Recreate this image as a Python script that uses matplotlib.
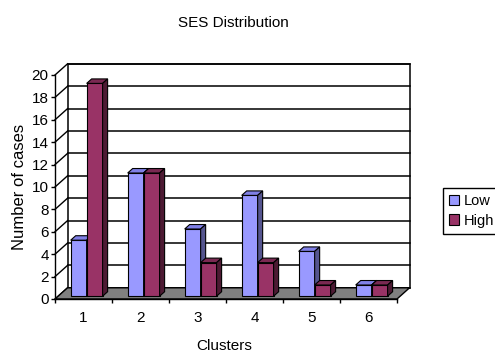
import matplotlib
matplotlib.use("Agg")
import matplotlib.pyplot as plt
from matplotlib.patches import Polygon, Rectangle, Patch
import numpy as np

clusters = [1, 2, 3, 4, 5, 6]
low = [5, 11, 6, 9, 4, 1]
high = [19, 11, 3, 3, 1, 1]
series_names = ["Low", "High"]
yticks = list(range(0, 21, 2))

plt.rcParams['font.family'] = ['Liberation Sans', 'DejaVu Sans']

# front / top / side shades, excel-ish
low_cols = ("#9999ff", "#8080e6", "#55558f")
high_cols = ("#993366", "#7a2952", "#4d1a33")

dx, dy = 0.22, 1.0      # depth of the box in data units
bar_w = 0.28
z0, zd = 0.25, 0.4      # bar start / depth as fraction of box depth

fig = plt.figure(figsize=(4.95, 3.52), dpi=100)
ax = fig.add_axes([55/495, 53/352, 342/495, 224/352])
ax.set_xlim(0.5, 6.5)
ax.set_ylim(0, 20)
ax.patch.set_visible(False)

# back wall, gridlines, side wall lines
ax.add_patch(Rectangle((0.5 + dx, dy), 6, 20, facecolor="white", edgecolor="black",
                       lw=1.1, clip_on=False, zorder=0.5))
for v in yticks:
    ax.plot([0.5 + dx, 6.5 + dx], [v + dy, v + dy], color="black", lw=1.1, clip_on=False, zorder=1)
    ax.plot([0.5, 0.5 + dx], [v, v + dy], color="black", lw=1, clip_on=False, zorder=1)

# floor
ax.add_patch(Polygon([(0.5, 0), (6.5, 0), (6.5 + dx, dy), (0.5 + dx, dy)], closed=True,
                     facecolor="#808080", edgecolor="black", lw=1, clip_on=False, zorder=1.5))


def bars3d(xs, vals, cols, z):
    ox, oy = z0 * dx, z0 * dy
    ddx, ddy = zd * dx, zd * dy
    ax.bar(np.array(xs) + ox, vals, width=bar_w, bottom=oy, align='edge', color=cols[0],
           edgecolor='black', lw=0.8, zorder=z, clip_on=False)
    for x0, v in zip(xs, vals):
        xl, xr, yb, yt = x0 + ox, x0 + ox + bar_w, oy, oy + v
        ax.add_patch(Polygon([(xl, yt), (xr, yt), (xr + ddx, yt + ddy), (xl + ddx, yt + ddy)],
                             closed=True, fc=cols[1], ec='black', lw=0.8, zorder=z, clip_on=False))
        ax.add_patch(Polygon([(xr, yb), (xr + ddx, yb + ddy), (xr + ddx, yt + ddy), (xr, yt)],
                             closed=True, fc=cols[2], ec='black', lw=0.8, zorder=z, clip_on=False))


bars3d([c - bar_w for c in clusters], low, low_cols, 2)
bars3d(clusters, high, high_cols, 3)

for s in ["top", "right"]:
    ax.spines[s].set_visible(False)
for s in ["left", "bottom"]:
    ax.spines[s].set_linewidth(1)
    ax.spines[s].set_zorder(4)

ax.set_yticks(yticks)
ax.tick_params(axis='y', length=3, width=1, direction='out', pad=1.5, labelsize=11)
ax.set_xticks(clusters)
ax.set_xticks(np.arange(0.5, 7, 1), minor=True)
ax.tick_params(axis='x', which='major', length=0, pad=9, labelsize=11)
ax.tick_params(axis='x', which='minor', length=3, width=1, direction='out')

fig.text(233/495, 1 - 23/352, "SES Distribution", ha='center', va='center', fontsize=11)
fig.text(20/495, 1 - 187/352, "Number of cases", ha='center', va='center', rotation=90, fontsize=12)
fig.text(224/495, 1 - 346/352, "Clusters", ha='center', va='center', fontsize=11)

handles = [Patch(facecolor=low_cols[0], edgecolor='black', lw=0.8),
           Patch(facecolor=high_cols[0], edgecolor='black', lw=0.8)]
leg = fig.legend(handles, series_names, loc='upper left', bbox_to_anchor=(443/495, 1 - 188/352),
                 fancybox=False, edgecolor='black', framealpha=1, fontsize=10.5,
                 handlelength=0.7, handleheight=0.7, handletextpad=0.3, borderpad=0.4,
                 labelspacing=0.4, borderaxespad=0)
leg.get_frame().set_linewidth(1)

fig.savefig("out.png", dpi=100)
